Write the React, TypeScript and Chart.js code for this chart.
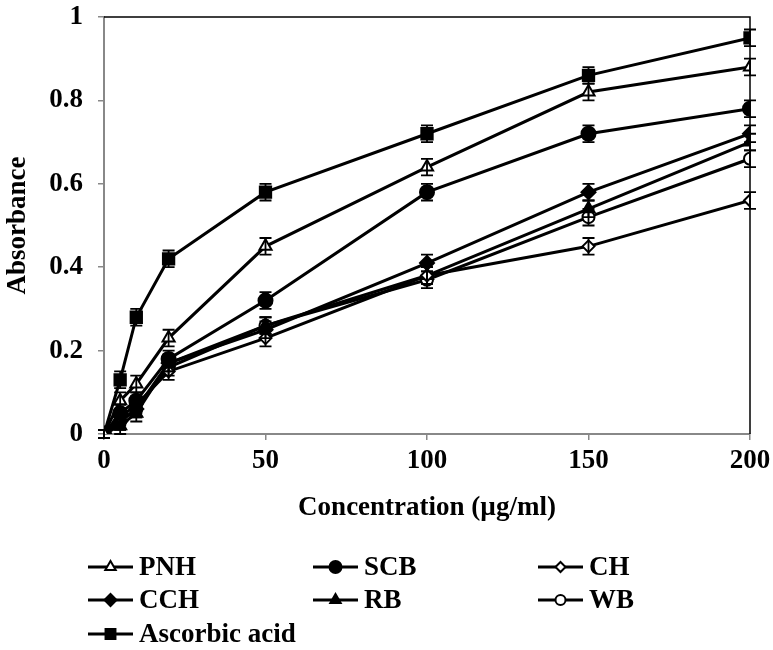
import React, { useEffect, useRef } from 'react';
import { Chart, registerables } from 'chart.js';
import { drawPoint } from 'chart.js/helpers';

Chart.register(...registerables);

const X_VALUES = [0, 5, 10, 20, 50, 100, 150, 200];
const X_TICKS = [0, 50, 100, 150, 200];
const Y_TICKS = [0, 0.2, 0.4, 0.6, 0.8, 1];

const PNH = [0, 0.08, 0.12, 0.23, 0.45, 0.64, 0.82, 0.88];
const SCB = [0, 0.05, 0.08, 0.18, 0.32, 0.58, 0.72, 0.78];
const CH = [0, 0.04, 0.07, 0.15, 0.23, 0.38, 0.45, 0.56];
const CCH = [0, 0.03, 0.06, 0.17, 0.25, 0.41, 0.58, 0.72];
const RB = [0, 0.02, 0.05, 0.17, 0.26, 0.38, 0.54, 0.7];
const WB = [0, 0.03, 0.06, 0.16, 0.26, 0.37, 0.52, 0.66];
const ASCORBIC = [0, 0.13, 0.28, 0.42, 0.58, 0.72, 0.86, 0.95];

const ERR_PNH = [0.01, 0.02, 0.02, 0.02, 0.02, 0.02, 0.02, 0.02];
const ERR_SCB = [0.01, 0.02, 0.02, 0.02, 0.02, 0.02, 0.02, 0.02];
const ERR_CH = [0.01, 0.02, 0.02, 0.02, 0.02, 0.02, 0.02, 0.02];
const ERR_CCH = [0.01, 0.02, 0.02, 0.02, 0.02, 0.02, 0.02, 0.02];
const ERR_RB = [0.01, 0.02, 0.02, 0.02, 0.02, 0.02, 0.02, 0.02];
const ERR_WB = [0.01, 0.02, 0.02, 0.02, 0.02, 0.02, 0.02, 0.02];
const ERR_ASCORBIC = [0.01, 0.02, 0.02, 0.02, 0.02, 0.02, 0.02, 0.02];

const FONT = "'Liberation Serif', 'Times New Roman', serif";

type Series = {
  label: string;
  values: number[];
  err: number[];
  style: string;
  filled: boolean;
  radius: number;
};

const SERIES: Series[] = [
  { label: 'PNH', values: PNH, err: ERR_PNH, style: 'triangle', filled: false, radius: 7 },
  { label: 'SCB', values: SCB, err: ERR_SCB, style: 'circle', filled: true, radius: 7 },
  { label: 'CH', values: CH, err: ERR_CH, style: 'rectRot', filled: false, radius: 6 },
  { label: 'CCH', values: CCH, err: ERR_CCH, style: 'rectRot', filled: true, radius: 7 },
  { label: 'RB', values: RB, err: ERR_RB, style: 'triangle', filled: true, radius: 7 },
  { label: 'WB', values: WB, err: ERR_WB, style: 'circle', filled: false, radius: 6 },
  { label: 'Ascorbic acid', values: ASCORBIC, err: ERR_ASCORBIC, style: 'rect', filled: true, radius: 8 },
];

const LEGEND_COLS = [88, 313, 538];
const LEGEND_ROWS = [567, 600, 634];

const overlayPlugin = {
  id: 'overlay',
  afterDatasetsDraw(chart: any) {
    const ctx = chart.ctx;
    const xs = chart.scales.x;
    const ys = chart.scales.y;
    ctx.save();
    ctx.strokeStyle = '#000';
    ctx.lineWidth = 1.8;
    SERIES.forEach((s) => {
      s.values.forEach((v, i) => {
        const px = xs.getPixelForValue(X_VALUES[i]);
        const top = ys.getPixelForValue(v + s.err[i]);
        const bot = ys.getPixelForValue(v - s.err[i]);
        ctx.beginPath();
        ctx.moveTo(px, top);
        ctx.lineTo(px, bot);
        ctx.moveTo(px - 6, top);
        ctx.lineTo(px + 6, top);
        ctx.moveTo(px - 6, bot);
        ctx.lineTo(px + 6, bot);
        ctx.stroke();
      });
    });
    const a = chart.chartArea;
    ctx.lineWidth = 1.5;
    ctx.beginPath();
    ctx.moveTo(a.left, a.top);
    ctx.lineTo(a.right, a.top);
    ctx.lineTo(a.right, a.bottom);
    ctx.stroke();
    ctx.restore();
  },
  afterDraw(chart: any) {
    const ctx = chart.ctx;
    ctx.save();
    SERIES.forEach((s, i) => {
      const x0 = LEGEND_COLS[i % 3];
      const y0 = LEGEND_ROWS[Math.floor(i / 3)];
      ctx.strokeStyle = '#000';
      ctx.lineWidth = 3;
      ctx.beginPath();
      ctx.moveTo(x0, y0);
      ctx.lineTo(x0 + 45, y0);
      ctx.stroke();
      ctx.fillStyle = s.filled ? '#000' : '#fff';
      ctx.strokeStyle = '#000';
      ctx.lineWidth = 2;
      drawPoint(ctx, { pointStyle: s.style as any, radius: s.radius - 1, rotation: 0, borderWidth: 2 }, x0 + 22.5, y0);
      ctx.fillStyle = '#000';
      ctx.font = `bold 27px ${FONT}`;
      ctx.textAlign = 'left';
      ctx.textBaseline = 'middle';
      ctx.fillText(s.label, x0 + 51, y0 + 1);
    });
    ctx.restore();
  },
};

export default function App() {
  const ref = useRef<HTMLCanvasElement>(null);
  useEffect(() => {
    document.body.style.margin = '0';
    if (!ref.current) return;
    const chart = new Chart(ref.current, {
      type: 'line',
      data: {
        datasets: SERIES.map((s) => ({
          label: s.label,
          data: s.values.map((v, i) => ({ x: X_VALUES[i], y: v })),
          borderColor: '#000',
          borderWidth: 3,
          backgroundColor: s.filled ? '#000' : '#fff',
          pointBackgroundColor: s.filled ? '#000' : '#fff',
          pointBorderColor: '#000',
          pointBorderWidth: 2,
          pointStyle: s.style as any,
          pointRadius: s.radius,
          tension: 0,
          fill: false,
        })),
      },
      options: {
        animation: false,
        responsive: false,
        maintainAspectRatio: false,
        layout: { padding: { top: 17, right: 23, bottom: 116, left: 0 } },
        plugins: { legend: { display: false }, tooltip: { enabled: false } },
        scales: {
          x: {
            type: 'linear',
            min: 0,
            max: 200,
            afterFit: (scale: any) => {
              scale.height = 100;
              scale.paddingLeft = 0;
              scale.paddingRight = 0;
            },
            afterBuildTicks: (scale: any) => {
              scale.ticks = X_TICKS.map((v) => ({ value: v }));
            },
            ticks: {
              color: '#000',
              padding: 5,
              font: { family: FONT, size: 27, weight: 'bold' },
              callback: (v: any) => String(v),
            },
            grid: { drawOnChartArea: false, color: '#888', tickLength: 6, lineWidth: 1.5 },
            border: { color: '#888', width: 2 },
            title: {
              display: true,
              text: 'Concentration (µg/ml)',
              color: '#000',
              font: { family: FONT, size: 27, weight: 'bold' },
              padding: { top: 0, bottom: 10 },
            },
          },
          y: {
            type: 'linear',
            min: 0,
            max: 1,
            afterFit: (scale: any) => {
              scale.width = 104;
              scale.paddingTop = 0;
              scale.paddingBottom = 0;
            },
            afterBuildTicks: (scale: any) => {
              scale.ticks = Y_TICKS.map((v) => ({ value: v }));
            },
            ticks: {
              color: '#000',
              padding: 15,
              font: { family: FONT, size: 27, weight: 'bold' },
              callback: (v: any) => String(Math.round(Number(v) * 10) / 10),
            },
            grid: { drawOnChartArea: false, color: '#888', tickLength: 6, lineWidth: 1.5 },
            border: { color: '#888', width: 2 },
            title: {
              display: true,
              text: 'Absorbance',
              color: '#000',
              font: { family: FONT, size: 27, weight: 'bold' },
              padding: { top: 2, bottom: 0 },
            },
          },
        },
      },
      plugins: [overlayPlugin],
    });
    return () => chart.destroy();
  }, []);
  return (
    <div style={{ width: 773, height: 650 }}>
      <canvas ref={ref} width={773} height={650} />
    </div>
  );
}
